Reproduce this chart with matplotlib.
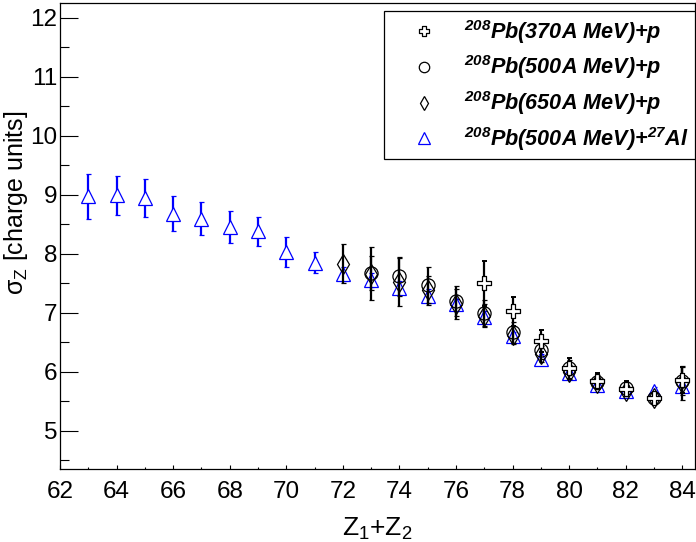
import numpy as np
import matplotlib
matplotlib.use("Agg")
import matplotlib.pyplot as plt
from matplotlib.path import Path
from matplotlib.lines import Line2D
import matplotlib.ticker as mticker

plt.rcParams['font.family'] = ['Liberation Sans', 'DejaVu Sans']
plt.rcParams['mathtext.fontset'] = 'custom'
plt.rcParams['mathtext.rm'] = 'Liberation Sans'
plt.rcParams['mathtext.it'] = 'Liberation Sans:italic'
plt.rcParams['mathtext.bf'] = 'Liberation Sans:bold:italic'

# 208Pb(370A MeV)+p  (open cross)
z_370 = [77, 78, 79, 80, 81, 82, 83, 84]
s_370 = [7.50, 7.02, 6.52, 6.06, 5.84, 5.71, 5.55, 5.86]
e_370 = [0.38, 0.24, 0.19, 0.18, 0.14, 0.13, 0.11, 0.22]

# 208Pb(500A MeV)+p  (open circle)
z_500 = [73, 74, 75, 76, 77, 78, 79, 80, 81, 82, 83, 84]
s_500 = [7.67, 7.62, 7.47, 7.20, 7.00, 6.67, 6.36, 6.07, 5.82, 5.72, 5.55, 5.85]
e_500 = [0.29, 0.33, 0.30, 0.25, 0.22, 0.18, 0.15, 0.13, 0.12, 0.10, 0.10, 0.24]

# 208Pb(650A MeV)+p  (open diamond)
z_650 = [72, 73, 74, 75, 76, 77, 78, 79, 80, 81, 82, 83, 84]
s_650 = [7.83, 7.66, 7.52, 7.38, 7.15, 6.95, 6.62, 6.30, 6.00, 5.80, 5.68, 5.55, 5.80]
e_650 = [0.33, 0.45, 0.40, 0.25, 0.25, 0.20, 0.15, 0.13, 0.12, 0.10, 0.10, 0.10, 0.28]

# 208Pb(500A MeV)+27Al  (open triangle, blue)
z_al = [63, 64, 65, 66, 67, 68, 69, 70, 71, 72, 73, 74, 75, 76, 77, 78, 79, 80, 81, 82, 83, 84]
s_al = [8.97, 8.99, 8.95, 8.68, 8.59, 8.45, 8.38, 8.03, 7.85, 7.65, 7.56, 7.42, 7.28, 7.14,
        6.92, 6.60, 6.22, 5.97, 5.77, 5.68, 5.68, 5.75]
e_al = [0.38, 0.33, 0.32, 0.29, 0.28, 0.27, 0.25, 0.25, 0.18, 0.12, 0.12, 0.12, 0.12, 0.10,
        0.10, 0.08, 0.08, 0.08, 0.06, 0.06, 0.06, 0.08]

labels = [r'$^{\mathbf{208}}$Pb(370A MeV)+p',
          r'$^{\mathbf{208}}$Pb(500A MeV)+p',
          r'$^{\mathbf{208}}$Pb(650A MeV)+p',
          r'$^{\mathbf{208}}$Pb(500A MeV)+$^{\mathbf{27}}$Al']

# open cross marker like ROOT style 28
w = 0.33
cross = Path([(-w, 1), (w, 1), (w, w), (1, w), (1, -w), (w, -w), (w, -1), (-w, -1),
              (-w, -w), (-1, -w), (-1, w), (-w, w), (-w, 1)])


def main():
    fig = plt.figure(figsize=(6.96, 5.42), dpi=100)
    ax = fig.add_axes([0.0862, 0.1347, 0.9124, 0.8598])

    eb = dict(linestyle='none', capsize=1.8, elinewidth=1.6, capthick=1.4, markeredgewidth=0.9)
    ax.errorbar(z_al, s_al, yerr=e_al, fmt='^', color='blue', ms=9.5, mfc='white', zorder=2, **eb)
    ax.errorbar(z_650, s_650, yerr=e_650, fmt='d', color='black', ms=10, mfc='none', zorder=3, **eb)
    ax.errorbar(z_500, s_500, yerr=e_500, fmt='o', color='black', ms=9.5, mfc='none', zorder=3, **eb)
    ax.errorbar(z_370, s_370, yerr=e_370, fmt='none', ecolor='black', zorder=3,
                capsize=1.8, elinewidth=1.6, capthick=1.4)
    ax.plot(z_370, s_370, linestyle='none', marker=cross, ms=9.5, mfc='white', mec='black',
            mew=0.9, zorder=4)

    ax.set_xlim(62, 84.45)
    ax.set_ylim(4.35, 12.25)
    ax.xaxis.set_major_locator(mticker.MultipleLocator(2))
    ax.xaxis.set_minor_locator(mticker.MultipleLocator(1))
    ax.yaxis.set_major_locator(mticker.MultipleLocator(1))
    ax.yaxis.set_minor_locator(mticker.MultipleLocator(0.5))
    ax.tick_params(axis='both', which='both', direction='in', labelsize=17.5)
    ax.tick_params(axis='y', which='major', length=13, width=0.8, pad=2)
    ax.tick_params(axis='y', which='minor', length=6.5, width=0.8)
    ax.tick_params(axis='x', which='major', length=3, width=0.8, pad=9)
    ax.tick_params(axis='x', which='minor', length=1.5, width=0.8)
    for sp in ax.spines.values():
        sp.set_linewidth(0.9)

    ax.set_xlabel(r'Z$_{\mathrm{1}}$+Z$_{\mathrm{2}}$', fontsize=19)
    ax.set_ylabel(r'σ$_{\mathrm{Z}}$ [charge units]', fontsize=18)
    ax.yaxis.set_label_coords(-0.0475, 0.571)
    ax.xaxis.set_label_coords(0.5, -0.1)

    handles = [
        Line2D([], [], linestyle='none', marker=cross, ms=7, mfc='white', mec='black', mew=0.9),
        Line2D([], [], linestyle='none', marker='o', ms=7.5, mfc='none', mec='black', mew=0.9),
        Line2D([], [], linestyle='none', marker='d', ms=7.5, mfc='none', mec='black', mew=0.9),
        Line2D([], [], linestyle='none', marker='^', ms=8, mfc='none', mec='blue', mew=0.9),
    ]
    leg = ax.legend(handles, labels, loc='upper right', bbox_to_anchor=(1.0, 0.982),
                    prop={'family': 'Liberation Sans', 'weight': 'bold', 'style': 'italic', 'size': 15.6},
                    frameon=True, fancybox=False, framealpha=1, edgecolor='black',
                    borderpad=0.3, labelspacing=0.36, handletextpad=0.34, handlelength=3.05,
                    borderaxespad=0.0)
    leg.get_frame().set_linewidth(0.9)

    plt.savefig("out.png", dpi=100)


if __name__ == "__main__":
    main()
